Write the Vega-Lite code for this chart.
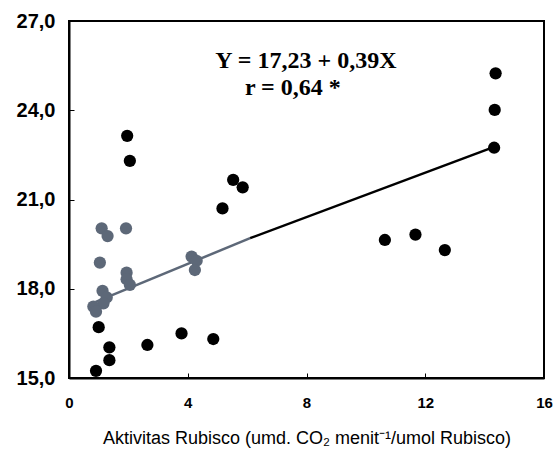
{
  "$schema": "https://vega.github.io/schema/vega-lite/v6.json",
  "width": 475,
  "height": 357,
  "autosize": "none",
  "padding": {"left": 69, "top": 21, "right": 10, "bottom": 80},
  "background": "white",
  "config": {
    "view": {"stroke": "black", "strokeWidth": 2},
    "axis": {"grid": false, "domainColor": "black", "domainWidth": 2, "tickColor": "black", "labelColor": "black", "titleColor": "black", "labelFont": "Liberation Sans", "titleFont": "Liberation Sans"}
  },
  "datasets": {
    "pts": [
      {"x": 1.96, "y": 23.14, "g": "b"},
      {"x": 2.05, "y": 22.30, "g": "b"},
      {"x": 5.53, "y": 21.66, "g": "b"},
      {"x": 5.85, "y": 21.41, "g": "b"},
      {"x": 5.17, "y": 20.70, "g": "b"},
      {"x": 1.00, "y": 16.71, "g": "b"},
      {"x": 1.36, "y": 16.03, "g": "b"},
      {"x": 1.36, "y": 15.60, "g": "b"},
      {"x": 0.91, "y": 15.24, "g": "b"},
      {"x": 2.64, "y": 16.11, "g": "b"},
      {"x": 3.79, "y": 16.50, "g": "b"},
      {"x": 4.86, "y": 16.31, "g": "b"},
      {"x": 10.64, "y": 19.64, "g": "b"},
      {"x": 11.67, "y": 19.82, "g": "b"},
      {"x": 12.66, "y": 19.30, "g": "b"},
      {"x": 14.37, "y": 25.24, "g": "b"},
      {"x": 14.34, "y": 24.01, "g": "b"},
      {"x": 14.32, "y": 22.74, "g": "b"},
      {"x": 1.10, "y": 20.03, "g": "a"},
      {"x": 1.30, "y": 19.77, "g": "a"},
      {"x": 1.92, "y": 20.03, "g": "a"},
      {"x": 1.04, "y": 18.88, "g": "a"},
      {"x": 1.94, "y": 18.54, "g": "a"},
      {"x": 1.94, "y": 18.32, "g": "a"},
      {"x": 2.05, "y": 18.13, "g": "a"},
      {"x": 1.13, "y": 17.93, "g": "a"},
      {"x": 1.27, "y": 17.71, "g": "a"},
      {"x": 1.16, "y": 17.51, "g": "a"},
      {"x": 0.82, "y": 17.40, "g": "a"},
      {"x": 0.91, "y": 17.23, "g": "a"},
      {"x": 4.13, "y": 19.08, "g": "a"},
      {"x": 4.30, "y": 18.94, "g": "a"},
      {"x": 4.24, "y": 18.63, "g": "a"}
    ],
    "fit": [
      {"x": 0.9, "y": 17.56, "s": "a"},
      {"x": 6.1, "y": 19.70, "s": "a"},
      {"x": 6.1, "y": 19.70, "s": "b"},
      {"x": 14.3, "y": 22.76, "s": "b"}
    ],
    "notes": [
      {"x": 7.98, "y": 25.66, "t": "Y = 17,23 + 0,39X"},
      {"x": 7.54, "y": 24.75, "t": "r = 0,64 *"}
    ]
  },
  "encoding": {
    "x": {
      "field": "x", "type": "quantitative",
      "scale": {"domain": [0, 16], "nice": false, "zero": false},
      "axis": {"values": [0, 4, 8, 12, 16], "tickSize": -5, "labelPadding": 22, "labelFontSize": 15, "labelFontWeight": "bold", "labelFlush": false, "title": "Aktivitas Rubisco (umd. CO₂ menit⁻¹/umol Rubisco)", "titleFontSize": 18, "titleFontWeight": "normal", "titlePadding": 19}
    },
    "y": {
      "field": "y", "type": "quantitative",
      "scale": {"domain": [15, 27], "nice": false, "zero": false},
      "axis": {"values": [15, 18, 21, 24, 27], "tickSize": -5, "labelPadding": 19, "labelFontSize": 20, "labelFontWeight": "bold", "labelFlush": false, "labelExpr": "replace(format(datum.value, '.1f'), '.', ',')", "title": null}
    }
  },
  "layer": [
    {
      "data": {"name": "fit"},
      "mark": {"type": "line", "strokeWidth": 2.5},
      "encoding": {
        "detail": {"field": "s"},
        "color": {"field": "s", "type": "nominal", "scale": {"domain": ["a", "b"], "range": ["#5d6878", "#000000"]}, "legend": null}
      }
    },
    {
      "data": {"name": "pts"},
      "mark": {"type": "point", "filled": true, "opacity": 1, "size": 150},
      "encoding": {
        "color": {"field": "g", "type": "nominal", "scale": {"domain": ["a", "b"], "range": ["#5d6878", "#000000"]}, "legend": null}
      }
    },
    {
      "data": {"name": "notes"},
      "mark": {"type": "text", "font": "Liberation Serif", "fontSize": 24, "fontWeight": "bold", "color": "black", "align": "center", "baseline": "middle"},
      "encoding": {"text": {"field": "t"}}
    }
  ]
}
